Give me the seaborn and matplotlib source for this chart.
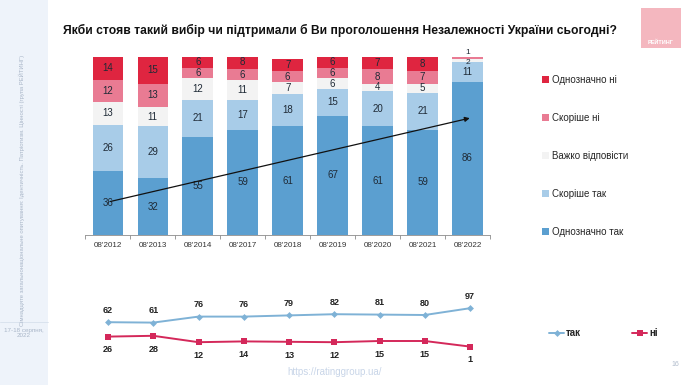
import matplotlib
matplotlib.use("Agg")
import matplotlib.pyplot as plt
import pandas as pd
import seaborn as sns
from matplotlib.lines import Line2D
from matplotlib.patches import Patch, Rectangle

years = ["08'2012", "08'2013", "08'2014", "08'2017", "08'2018",
         "08'2019", "08'2020", "08'2021", "08'2022"]
def_yes = [36, 32, 55, 59, 61, 67, 61, 59, 86]
rather_yes = [26, 29, 21, 17, 18, 15, 20, 21, 11]
hard_to_say = [13, 11, 12, 11, 7, 6, 4, 5, 2]
rather_no = [12, 13, 6, 6, 6, 6, 8, 7, 1]
def_no = [14, 15, 6, 8, 7, 6, 7, 8, 0]
yes_total = [62, 61, 76, 76, 79, 82, 81, 80, 97]
no_total = [26, 28, 12, 14, 13, 12, 15, 15, 1]

series_names = ["Однозначно так", "Скоріше так", "Важко відповісти", "Скоріше ні", "Однозначно ні"]
series_vals = [def_yes, rather_yes, hard_to_say, rather_no, def_no]
colors = ["#5b9fd0", "#a8cce8", "#f3f3f3", "#e97b93", "#df2540"]

W, H = 690, 385


def px_axes(fig, left, top, right, bottom):
    return fig.add_axes([left / W, 1 - bottom / H, (right - left) / W, (bottom - top) / H])


sns.set_theme(style="white")
plt.rcParams["font.family"] = ["Liberation Sans", "DejaVu Sans"]

fig = plt.figure(figsize=(W / 100, H / 100), dpi=100)
fig.patch.set_facecolor("white")

# left sidebar
fig.patches.append(Rectangle((0, 0), 48 / W, 1, transform=fig.transFigure,
                             facecolor="#eef3fa", edgecolor="none", zorder=0))
fig.lines.append(Line2D([0, 48 / W], [1 - 322 / H, 1 - 322 / H], transform=fig.transFigure,
                        color="#d7e0ec", lw=0.6))
fig.text(22 / W, 1 - 190 / H,
         "Cімнадцяте загальнонаціональне опитування: Ідентичність. Патріотизм. Цінності (група РЕЙТИНГ)",
         rotation=90, ha="center", va="center", fontsize=4.2, color="#a9b6c8")
fig.text(24 / W, 1 - 333 / H, "17-18 серпня,\n2022", ha="center", va="center",
         fontsize=4.5, color="#a9b6c8", linespacing=1.1)

# logo
fig.patches.append(Rectangle((641 / W, 1 - 48 / H), 40 / W, 40 / H, transform=fig.transFigure,
                             facecolor="#f4b7bf", edgecolor="none"))
fig.text(661 / W, 1 - 42 / H, "РЕЙТИНГ", ha="center", va="center", fontsize=4,
         color="white", fontweight="bold")

fig.text(340 / W, 1 - 30 / H,
         "Якби стояв такий вибір чи підтримали б Ви проголошення Незалежності України сьогодні?",
         ha="center", va="center", fontsize=8.7, fontweight="bold", color="#111111")

# stacked bars
ax = px_axes(fig, 85, 57, 490, 235)
df = pd.DataFrame({"year": years})
cum = [0] * len(years)
cums = []
for vals in series_vals:
    cum = [c + v for c, v in zip(cum, vals)]
    cums.append(list(cum))
for name, c, col in reversed(list(zip(series_names, cums, colors))):
    df[name] = c
    sns.barplot(data=df, x="year", y=name, color=col, width=0.68, ax=ax,
                saturation=1, edgecolor="none", linewidth=0)

last = len(years) - 1
for i in range(len(years)):
    base = 0
    for k, vals in enumerate(series_vals):
        v = vals[i]
        if v > 0:
            y = base + v / 2
            fs = 7
            if i == last and k == 2:
                y, fs = 96.8, 6
            if i == last and k == 3:
                y, fs = 102.3, 6
            ax.text(i, y, str(v), ha="center", va="center", fontsize=fs, color="#1f2a36",
                    clip_on=False)
        base += v

ax.annotate("", xy=(8.11, 66), xytext=(0, 18.5),
            arrowprops=dict(arrowstyle="-|>", color="#111111", lw=0.9, mutation_scale=7))

ax.set_xlim(-0.508, 8.44)
ax.set_ylim(0, 100)
ax.set_xlabel("")
ax.set_ylabel("")
ax.set_yticks([])
for s in ["top", "right", "left"]:
    ax.spines[s].set_visible(False)
ax.spines["bottom"].set_color("#8c8c8c")
ax.spines["bottom"].set_linewidth(0.6)
ax.tick_params(axis="x", length=0, labelsize=5.8, labelcolor="#333333", pad=5)
ax.set_xticks([i - 0.5 for i in range(len(years) + 1)], minor=True)
ax.tick_params(axis="x", which="minor", length=3, color="#8c8c8c", width=0.6, bottom=True)
ax.patch.set_alpha(0)

handles = [Patch(facecolor=c, edgecolor="none") for c in reversed(colors)]
fig.legend(handles, list(reversed(series_names)), loc="upper left",
           bbox_to_anchor=(533 / W, 1 - 66 / H), frameon=False, fontsize=7,
           labelspacing=2.88, handlelength=0.7, handleheight=0.7, handletextpad=0.4)

# lines
lax = px_axes(fig, 85, 290, 490, 360)
ldf = pd.DataFrame({"x": list(range(len(years))), "так": yes_total, "ні": no_total})
sns.lineplot(data=ldf, x="x", y="так", color="#7fb2d6", marker="D", markersize=3.5,
             markeredgewidth=0, lw=1.4, ax=lax)
sns.lineplot(data=ldf, x="x", y="ні", color="#d4285a", marker="s", markersize=5,
             markeredgewidth=0, lw=1.4, ax=lax)
for i in range(len(years)):
    lax.text(i, yes_total[i] + 30, str(yes_total[i]), ha="center", va="center",
             fontsize=6.5, fontweight="bold", color="#222222", clip_on=False)
    lax.text(i, no_total[i] - 33, str(no_total[i]), ha="center", va="center",
             fontsize=6.5, fontweight="bold", color="#222222", clip_on=False)
lax.set_xlim(-0.508, 8.44)
lax.set_ylim(-32.5, 142.5)
lax.axis("off")

lhandles = [Line2D([0], [0], color="#7fb2d6", marker="D", markersize=3.5, lw=1.4, markeredgewidth=0),
            Line2D([0], [0], color="#d4285a", marker="s", markersize=5, lw=1.4, markeredgewidth=0)]
leg = fig.legend(lhandles, ["так", "ні"], loc="center left", bbox_to_anchor=(540 / W, 1 - 333 / H),
                 ncol=2, frameon=False, fontsize=7, handlelength=1.6, handletextpad=0.2,
                 columnspacing=5.2)
for t in leg.get_texts():
    t.set_fontweight("bold")

fig.text(335 / W, 1 - 372 / H, "https://ratinggroup.ua/", ha="center", va="center",
         fontsize=7, color="#c8d5e8")
fig.text(675 / W, 1 - 364 / H, "16", ha="center", va="center", fontsize=5, color="#b0bccc")

fig.savefig("out.png", dpi=100)
